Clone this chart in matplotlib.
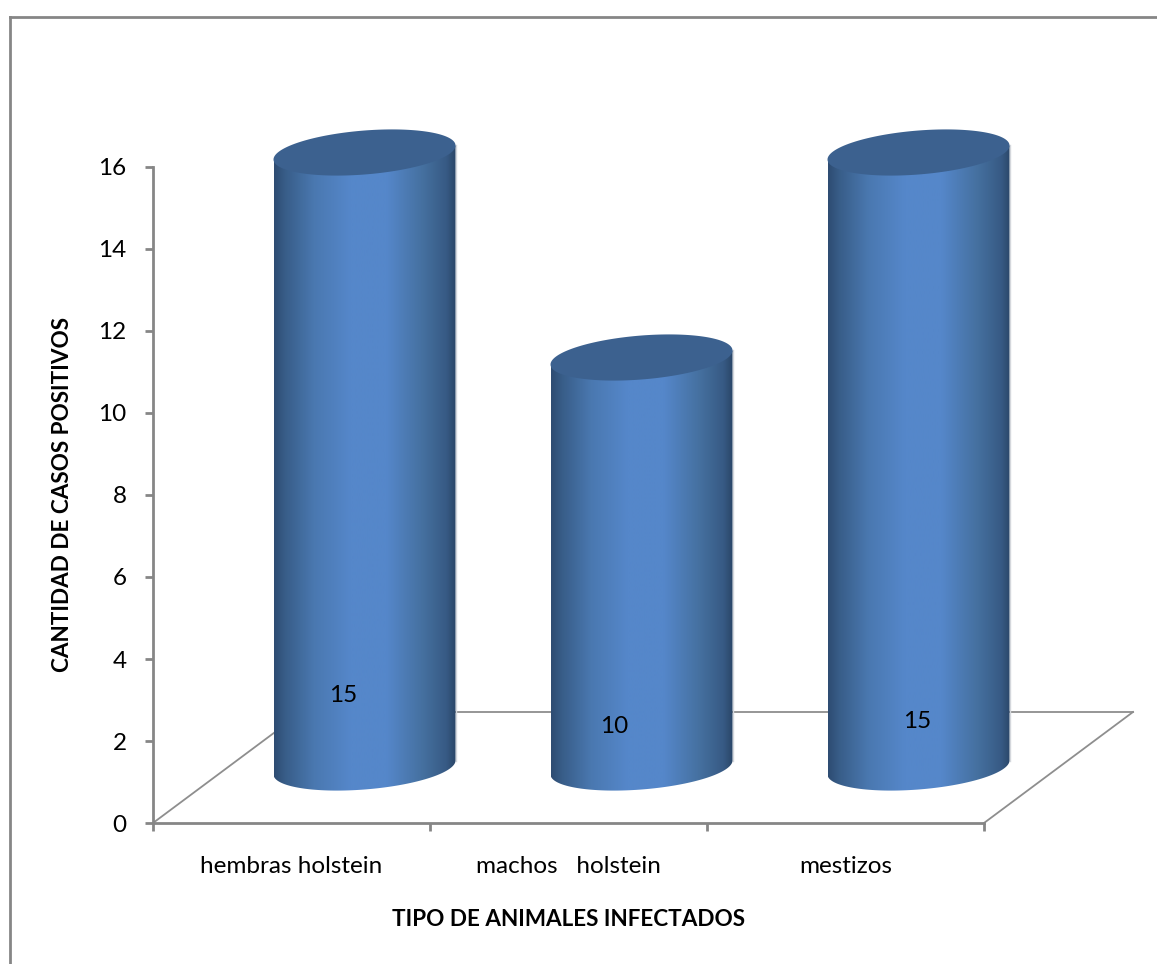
import numpy as np
import matplotlib
matplotlib.use("Agg")
import matplotlib.pyplot as plt
from matplotlib.colors import LinearSegmentedColormap
from matplotlib.lines import Line2D
from matplotlib.patches import Polygon

categories = ["hembras holstein", "machos   holstein", "mestizos"]
values = [15, 10, 15]
y_ticks = [0, 2, 4, 6, 8, 10, 12, 14, 16]

W, H = 1157, 964
GRAY = "#868686"

plt.rcParams["font.family"] = ["Lato", "DejaVu Sans"]

fig = plt.figure(figsize=(W / 100, H / 100), dpi=100)
ax = fig.add_axes([153 / W, 1 - 823 / H, (984 - 153) / W, (823 - 167) / H])
ax.patch.set_alpha(0)
ax.set_xlim(0, 3)
ax.set_ylim(0, 16)

for s in ["top", "right"]:
    ax.spines[s].set_visible(False)
for s in ["left", "bottom"]:
    ax.spines[s].set_color(GRAY)
    ax.spines[s].set_linewidth(2)

ax.set_yticks(y_ticks)
ax.tick_params(axis="y", length=6, width=2, color=GRAY, labelsize=17.5, pad=13)
ax.set_xticks([0, 1, 2, 3])
ax.set_xticklabels([])
ax.tick_params(axis="x", which="major", length=6, width=2, color=GRAY)
ax.set_xticks([0.5, 1.5, 2.5], minor=True)
ax.set_xticklabels(categories, minor=True, fontsize=17.5)
ax.tick_params(axis="x", which="minor", length=0, pad=24)

# floor of the 3d box
depth_x, depth_y = 149 / 277, 111 / 41
floor = dict(color="#8e8e8e", lw=1.3, zorder=1, clip_on=False)
ax.plot([0, depth_x], [0, depth_y], **floor)
ax.plot([depth_x, 3 + depth_x], [depth_y, depth_y], **floor)
ax.plot([3, 3 + depth_x], [0, depth_y], **floor)

# cylinders
half_w = 91 / 277
ell_h = 22 / 41
tilt = 7 / 41
shade = LinearSegmentedColormap.from_list("cyl", [
    (0.0, "#2e4c72"), (0.06, "#385d88"), (0.22, "#4a78b0"), (0.42, "#5587ca"),
    (0.62, "#5587ca"), (0.82, "#45709f"), (0.95, "#375a84"), (1.0, "#2a4668")])
t_low = np.linspace(np.pi, 2 * np.pi, 80)
t_all = np.linspace(0, 2 * np.pi, 160)

for i, v in enumerate(values):
    cx = i + 0.5 + 0.49 * depth_x
    y0 = 0.5 * depth_y
    x_low = cx + half_w * np.cos(t_low)
    y_low = y0 + tilt * np.cos(t_low) + ell_h * np.sin(t_low)
    body = Polygon(np.r_[np.c_[x_low, y_low],
                         [[cx + half_w, y0 + v + tilt], [cx - half_w, y0 + v - tilt]]],
                   closed=True, fc="none", ec="none", zorder=2, clip_on=False)
    ax.add_patch(body)
    im = ax.imshow(np.linspace(0, 1, 256).reshape(1, -1), cmap=shade, aspect="auto",
                   extent=[cx - half_w, cx + half_w, y0 - 1, y0 + v + 1], zorder=2,
                   interpolation="bilinear")
    im.set_clip_path(body)
    im.set_clip_box(fig.bbox)
    ax.plot([cx + half_w + 0.003] * 2, [y0 + tilt, y0 + v + tilt], color="#d4d7dc",
            lw=1, zorder=1.5, clip_on=False)
    top = Polygon(np.c_[cx + half_w * np.cos(t_all),
                        y0 + v + tilt * np.cos(t_all) + ell_h * np.sin(t_all)],
                  closed=True, fc="#3c618f", ec="none", zorder=3, clip_on=False)
    ax.add_patch(top)

ax.set_xlim(0, 3)
ax.set_ylim(0, 16)

# data labels sit where they were dragged, not on a rule
label_x = [0.688, 1.665, 2.76]
label_y = [3.12, 2.35, 2.47]
for v, lx, ly in zip(values, label_x, label_y):
    ax.text(lx, ly, str(v), ha="center", va="center", fontsize=17.5, color="black", zorder=4)

fig.text(63 / W, 1 - 495 / H, "CANTIDAD DE CASOS POSITIVOS", rotation=90, ha="center",
         va="center", fontsize=16.2, fontweight="bold")
fig.text(568 / W, 1 - 920 / H, "TIPO DE ANIMALES INFECTADOS", ha="center", va="center",
         fontsize=16.2, fontweight="bold")

# chart border, only left and top made it into the crop
fig.add_artist(Line2D([9.5 / W, 9.5 / W], [0, 1 - 17 / H], color=GRAY, lw=2))
fig.add_artist(Line2D([9.5 / W, 1], [1 - 17 / H, 1 - 17 / H], color=GRAY, lw=2))

fig.savefig("out.png", dpi=100)
